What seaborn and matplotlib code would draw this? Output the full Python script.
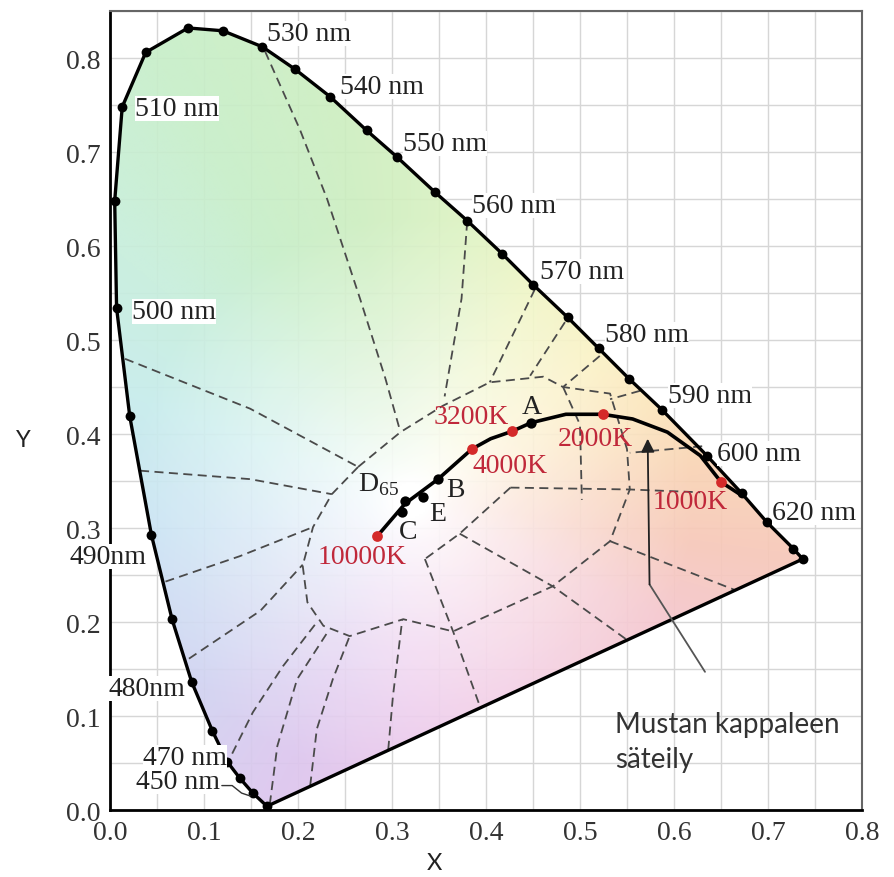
import numpy as np
import pandas as pd
import matplotlib
matplotlib.use('Agg')
import matplotlib.pyplot as plt
import seaborn as sns
from matplotlib.patches import Polygon
from matplotlib.colors import to_rgb

# spectral locus dots (nm)
wavelengths = [380, 450, 460, 470, 475, 480, 485, 490, 495, 500, 505, 510, 515, 520, 525,
               530, 535, 540, 545, 550, 555, 560, 565, 570, 575, 580, 585, 590, 600, 610,
               620, 640, 700]
locus_x = [0.167, 0.152, 0.138, 0.125, 0.109, 0.087, 0.066, 0.044, 0.021, 0.007, 0.005, 0.013,
           0.038, 0.083, 0.120, 0.162, 0.197, 0.234, 0.273, 0.305, 0.346, 0.380, 0.417, 0.450,
           0.487, 0.520, 0.552, 0.587, 0.635, 0.672, 0.699, 0.727, 0.737]
locus_y = [0.004, 0.018, 0.034, 0.051, 0.084, 0.136, 0.203, 0.293, 0.419, 0.534, 0.648, 0.748,
           0.806, 0.832, 0.829, 0.812, 0.788, 0.759, 0.723, 0.695, 0.657, 0.627, 0.592, 0.559,
           0.524, 0.491, 0.459, 0.426, 0.377, 0.337, 0.306, 0.278, 0.267]

# wavelength labels: text, anchor x, anchor y, alignment
wl_labels = ['530 nm', '540 nm', '550 nm', '560 nm', '570 nm', '580 nm', '590 nm', '600 nm',
             '620 nm', '510 nm', '500 nm', '490nm', '480nm', '470 nm', '450 nm']
wl_label_x = [0.167, 0.245, 0.312, 0.385, 0.457, 0.527, 0.594, 0.646, 0.704, 0.027, 0.023,
              0.039, 0.080, 0.124, 0.117]
wl_label_y = [0.826, 0.770, 0.709, 0.643, 0.573, 0.506, 0.441, 0.379, 0.317, 0.746, 0.530,
              0.270, 0.129, 0.056, 0.030]
wl_label_ha = ['left'] * 11 + ['right'] * 4

# black body curve
planck_x = [0.284, 0.314, 0.349, 0.385, 0.405, 0.428, 0.448, 0.485, 0.524, 0.556, 0.593,
            0.628, 0.650, 0.673]
planck_y = [0.291, 0.326, 0.352, 0.384, 0.395, 0.403, 0.412, 0.421, 0.421, 0.416, 0.402,
            0.377, 0.349, 0.334]

temp_labels = ['10000K', '4000K', '3200K', '2000K', '1000K']
temp_x = [0.284, 0.385, 0.428, 0.524, 0.650]
temp_y = [0.291, 0.384, 0.403, 0.421, 0.349]
temp_label_x = [0.268, 0.426, 0.384, 0.516, 0.617]
temp_label_y = [0.270, 0.366, 0.419, 0.395, 0.328]

illum_labels = ['D$_{65}$', 'C', 'E', 'B', 'A']
illum_x = [0.314, 0.311, 0.333, 0.349, 0.448]
illum_y = [0.329, 0.317, 0.333, 0.352, 0.412]
illum_label_x = [0.286, 0.317, 0.349, 0.367, 0.449]
illum_label_y = [0.347, 0.296, 0.315, 0.341, 0.429]

# dashed hue / saturation guide lines
guide_lines = [
    # inner loop
    [(0.264, 0.365), (0.309, 0.402), (0.354, 0.430), (0.404, 0.455), (0.461, 0.461),
     (0.482, 0.450), (0.532, 0.443), (0.550, 0.384), (0.553, 0.341), (0.532, 0.286),
     (0.471, 0.238), (0.365, 0.190), (0.312, 0.203), (0.255, 0.185), (0.227, 0.196),
     (0.210, 0.221), (0.205, 0.260), (0.216, 0.301), (0.236, 0.336), (0.264, 0.365)],
    # radial lines
    [(0.165, 0.807), (0.202, 0.724), (0.231, 0.650), (0.266, 0.544), (0.293, 0.459), (0.309, 0.402)],
    [(0.380, 0.626), (0.374, 0.544), (0.356, 0.440)],
    [(0.452, 0.554), (0.404, 0.455)],
    [(0.484, 0.519), (0.447, 0.462)],
    [(0.521, 0.483), (0.482, 0.450)],
    [(0.482, 0.450), (0.500, 0.410), (0.502, 0.330)],
    [(0.564, 0.446), (0.532, 0.437)],
    [(0.630, 0.387), (0.553, 0.380)],
    [(0.426, 0.343), (0.553, 0.341), (0.628, 0.338)],
    [(0.426, 0.343), (0.372, 0.294), (0.335, 0.267)],
    [(0.532, 0.286), (0.665, 0.234)],
    [(0.372, 0.294), (0.471, 0.238), (0.550, 0.181)],
    [(0.335, 0.267), (0.365, 0.190), (0.394, 0.109)],
    [(0.130, 0.060), (0.152, 0.104), (0.184, 0.153), (0.221, 0.201)],
    [(0.170, 0.006), (0.178, 0.068), (0.199, 0.139), (0.232, 0.190)],
    [(0.213, 0.026), (0.220, 0.086), (0.237, 0.139), (0.255, 0.185)],
    [(0.296, 0.064), (0.301, 0.121), (0.311, 0.203)],
    [(0.059, 0.243), (0.138, 0.270), (0.216, 0.301)],
    [(0.084, 0.161), (0.160, 0.212), (0.205, 0.261)],
    [(0.016, 0.480), (0.149, 0.427), (0.264, 0.365)],
    [(0.032, 0.361), (0.149, 0.352), (0.236, 0.336)],
]

note_text = 'Mustan kappaleen\nsäteily'

# pastel edge colours by direction around the white point (style only)
hue_angles = [5, 20, 38, 60, 80, 100, 120, 140, 160, 188, 220, 245, 270, 300, 335, 352]
hue_colors = ['#f9d2b4', '#fbe2b6', '#faf0bc', '#eef5bf', '#dcf2c2', '#cdeec0', '#c7eec9',
              '#c7eedd', '#c6ecec', '#c7e1f3', '#d0d3f1', '#dcc6ee', '#eac4ea', '#f2c6df',
              '#f5c6cd', '#f7c8b8']

sns.set_theme(style='white')
plt.rcParams['font.family'] = ['Liberation Serif', 'DejaVu Serif']
plt.rcParams['mathtext.fontset'] = 'custom'
plt.rcParams['mathtext.rm'] = 'Liberation Serif'

fig = plt.figure(figsize=(8.95, 8.78), dpi=100)
ax = fig.add_axes([0.1229, 0.0763, 0.8402, 0.910])
ax.set_xlim(0, 0.8)
ax.set_ylim(0, 0.85)

# soft colour field behind the locus
gx, gy = np.meshgrid(np.linspace(0, 0.8, 400), np.linspace(0, 0.85, 425))
ang = np.degrees(np.arctan2(gy - 0.33, gx - 0.32)) % 360
rad = np.hypot(gx - 0.32, gy - 0.33)
edge = np.array([to_rgb(c) for c in hue_colors])
field = np.stack([np.interp(ang, hue_angles, edge[:, k], period=360) for k in range(3)], -1)
t = np.clip((rad - 0.02) / 0.28, 0, 1)[..., None] ** 0.8
rgb = 1 - t * (1 - field)

poly = Polygon(np.column_stack([locus_x, locus_y]), closed=True, facecolor='none',
               edgecolor='none', transform=ax.transData)
ax.add_patch(poly)
im = ax.imshow(rgb, extent=[0, 0.8, 0, 0.85], origin='lower', aspect='auto',
               interpolation='bilinear', zorder=1, alpha=0.92)
im.set_clip_path(poly)

for line in guide_lines:
    pts = np.array(line)
    ax.plot(pts[:, 0], pts[:, 1], color='#4a4a4a', lw=1.3, ls=(0, (5, 3)), zorder=2)

# spectral locus + line of purples
locus = pd.DataFrame({'x': locus_x + [locus_x[0]], 'y': locus_y + [locus_y[0]]})
sns.lineplot(data=locus, x='x', y='y', sort=False, estimator=None, color='black', lw=2.4,
             ax=ax, zorder=3)
ax.scatter(locus_x, locus_y, s=50, color='black', zorder=4, linewidths=0)

for lab, lx, ly, ha in zip(wl_labels, wl_label_x, wl_label_y, wl_label_ha):
    ax.text(lx, ly, lab, ha=ha, va='center', fontsize=20, color='#222222', zorder=5,
            bbox=dict(facecolor='white', edgecolor='none', pad=0.0))
ax.plot([0.119, 0.130, 0.140, 0.149], [0.026, 0.026, 0.018, 0.015], color='#333333', lw=1,
        zorder=5)

# black body radiation curve
planck = pd.DataFrame({'x': planck_x, 'y': planck_y})
sns.lineplot(data=planck, x='x', y='y', sort=False, estimator=None, color='black', lw=2.6,
             ax=ax, zorder=3)
ax.scatter(illum_x, illum_y, s=55, color='black', zorder=4, linewidths=0)
ax.scatter(temp_x, temp_y, s=60, color='#d42a2a', zorder=4, linewidths=0)
for lab, lx, ly in zip(temp_labels, temp_label_x, temp_label_y):
    ax.text(lx, ly, lab, ha='center', va='center', fontsize=20, color='#c0283a', zorder=5)
for lab, lx, ly in zip(illum_labels, illum_label_x, illum_label_y):
    ax.text(lx, ly, lab, ha='center', va='center', fontsize=20, color='#222222', zorder=5)

# annotation arrow
ax.plot([0.633, 0.574], [0.147, 0.240], color='#555555', lw=1.3, zorder=5)
ax.annotate('', xy=(0.572, 0.395), xytext=(0.574, 0.240),
            arrowprops=dict(arrowstyle='-|>', color='#222222', lw=1.3, mutation_scale=20,
                            shrinkA=0, shrinkB=0), zorder=5)
ax.text(0.537, 0.073, note_text, ha='left', va='center', fontsize=20, color='#333333',
        family=['Lato', 'DejaVu Sans'], linespacing=1.4, zorder=5)

# axes, ticks and grid
ax.set_xticks(np.arange(0, 0.81, 0.1))
ax.set_yticks(np.arange(0, 0.81, 0.1))
ax.set_xticks(np.arange(0.05, 0.8, 0.1), minor=True)
ax.set_yticks(np.arange(0.05, 0.86, 0.1), minor=True)
ax.set_xticklabels([f'{v:.1f}' for v in np.arange(0, 0.81, 0.1)])
ax.set_yticklabels([f'{v:.1f}' for v in np.arange(0, 0.81, 0.1)])
ax.grid(True, which='both', color='#d6d6d6', lw=1, zorder=0)
ax.set_axisbelow(True)
ax.tick_params(which='major', direction='in', length=12, width=1.5, color='black',
               labelsize=20, labelcolor='#333333', pad=7)
ax.tick_params(which='minor', direction='in', length=7, width=1.5, color='black')
for side in ['left', 'bottom']:
    ax.spines[side].set_color('black')
    ax.spines[side].set_linewidth(2)
for side in ['top', 'right']:
    ax.spines[side].set_color('#666666')
    ax.spines[side].set_linewidth(1.5)

ax.set_xlabel('X', fontsize=17, color='#222222', family=['Lato', 'DejaVu Sans'], va='center')
ax.set_ylabel('Y', fontsize=17, color='#222222', family=['Lato', 'DejaVu Sans'], rotation=0,
              va='center', ha='center')
ax.xaxis.set_label_coords(0.432, -0.066)
ax.yaxis.set_label_coords(-0.115, 0.464)

fig.savefig('out.png', dpi=100)
